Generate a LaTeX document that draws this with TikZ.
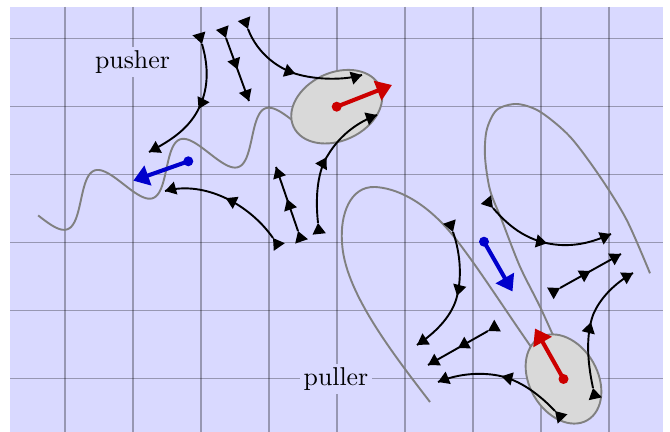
\documentclass[tikz,border=0pt]{standalone}
\usetikzlibrary{arrows.meta,decorations.markings}
\definecolor{bgc}{RGB}{217,217,255}
\definecolor{redc}{RGB}{204,0,0}
\definecolor{bluec}{RGB}{0,0,204}
\begin{document}
\begin{tikzpicture}[x=0.014706cm, y=-0.014706cm,
  >={Triangle[length=4.6pt,width=5.4pt]},
  gridl/.style={draw=black, opacity=0.3, line width=0.6pt},
  flow/.style={thick, postaction={decorate}, decoration={markings,
      mark=at position 0 with {\arrow{>}},
      mark=at position 0.5 with {\arrow{>}},
      mark=at position 0.9999 with {\arrow{>}}}},
  body/.style={thick, draw=gray, fill=gray!30},
  flag/.style={thick, draw=gray},
  bigarrow/.style={line width=1.7pt, -{Triangle[length=6.5pt,width=8.5pt]}},
  lbl/.style={fill=bgc, inner sep=1.5pt, font=\fontsize{10.8}{13}\selectfont}]
\useasboundingbox (0,0) rectangle (670,432);
\fill[bgc] (10,6.7) rectangle (663,432);
\foreach \gx in {65,133,...,609} \draw[gridl] (\gx,6.7) -- (\gx,432);
\foreach \gy in {38.7,106.7,174.7,242.7,310.7,378.7} \draw[gridl] (10,\gy) -- (663,\gy);

% coordinates
\coordinate (pushc) at (336.7,106.7);
\coordinate (pushtip) at (392,85);
\coordinate (pushb) at (188.3,161.3);
\coordinate (pushbtip) at (133.3,180.7);
\coordinate (pullc) at (563.5,379);
\coordinate (pulltip) at (535,328.5);
\coordinate (pullb) at (484,241.7);
\coordinate (pullbtip) at (512.5,291.5);

% pusher tail
\draw[flag] plot[domain=-318:-38, samples=140, smooth, variable=\t]
  ({337 + 0.9397*\t + 7.866*sin((\t+318)/91*360)}, {106.7 - 0.342*\t + 21.61*sin((\t+318)/91*360)});
% puller flagella
\draw[flag] (536,354) .. controls (505,310) and (480,270) .. (455,238)
  .. controls (425,200) and (395,188) .. (375,187)
  .. controls (350,186) and (340,215) .. (342,242)
  .. controls (344,290) and (390,350) .. (430,402);
\draw[flag] plot[smooth] coordinates {(556,342) (540,306.7) (520,266.7) (501.7,220) (490,190) (485,156.7) (486.7,130) (496.7,110) (516.7,104) (540,111.7) (570,136.7) (600,176.7) (626.7,220) (650,273.3)};

% bodies
\draw[body] (pushc) circle[x radius=47.6, y radius=34, rotate=25];
\draw[body] (pullc) circle[x radius=47.6, y radius=34, rotate=120];

% pusher streamlines
\draw[flow] (202,44) .. controls (209,68) and (208,88) .. (200,106) .. controls (190,128) and (172,140) .. (149,152);
\draw[flow] (226,38) -- (249,101);
\draw[flow] (248,29) .. controls (258,55) and (280,70) .. (300,75) .. controls (320,80) and (345,80) .. (362,75);
\draw[flow] (318,223) .. controls (315,195) and (318,170) .. (328,155) .. controls (340,135) and (358,122) .. (377,115);
\draw[flow] (298,231) -- (276,167);
\draw[flow] (273,238) .. controls (250,205) and (205,180) .. (165,191);

% puller streamlines
\draw[flow] (453,232) .. controls (461,255) and (462,280) .. (456,300) .. controls (450,318) and (435,333) .. (417,345);
\draw[flow] (488,331) -- (428,365);
\draw[flow] (555,411) .. controls (535,390) and (515,378) .. (495,375) .. controls (475,372) and (455,375) .. (438,382);
\draw[flow] (593,388) .. controls (587,360) and (586,335) .. (593,315) .. controls (600,298) and (615,283) .. (633,273);
\draw[flow] (560,288) -- (621,254);
\draw[flow] (493,208) .. controls (510,228) and (530,243) .. (560,245) .. controls (580,246) and (595,241) .. (611,234);

% force arrows
\draw[bigarrow, redc] (pushc) -- (pushtip);
\fill[redc] (pushc) circle[radius=5];
\draw[bigarrow, bluec] (pushb) -- (pushbtip);
\fill[bluec] (pushb) circle[radius=5];
\draw[bigarrow, redc] (pullc) -- (pulltip);
\fill[redc] (pullc) circle[radius=5];
\draw[bigarrow, bluec] (pullb) -- (pullbtip);
\fill[bluec] (pullb) circle[radius=5];

% labels
\node[lbl] (pushlbl) at (132.5,61.7) {pusher};
\node[lbl] (pulllbl) at (336,379) {puller};
\end{tikzpicture}
\end{document}
